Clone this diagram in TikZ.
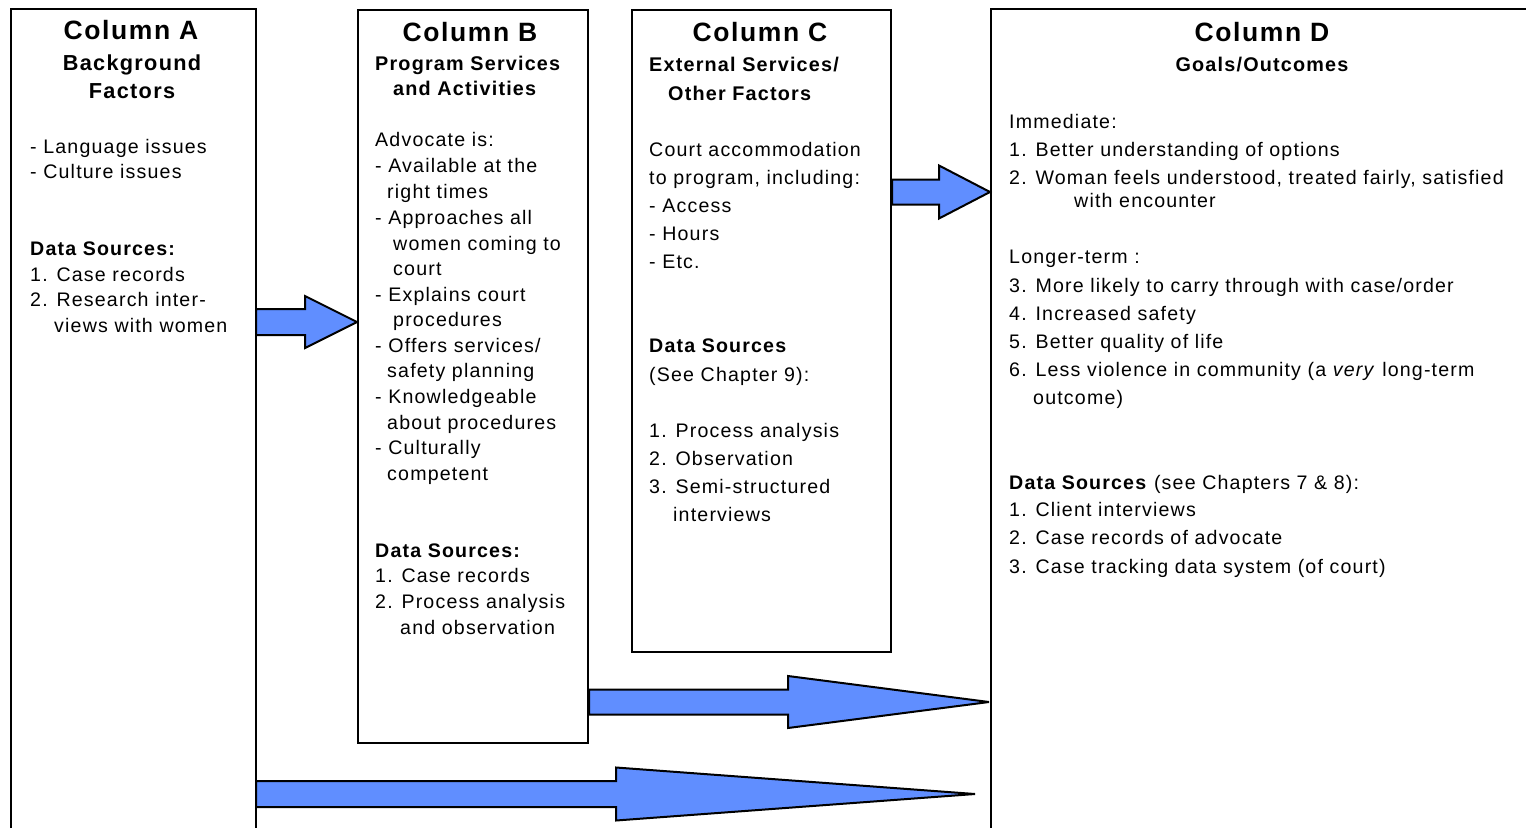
\documentclass[tikz,border=0pt]{standalone}
\usepackage{fontspec}
\setmainfont[LetterSpace=6]{Liberation Sans}
\usetikzlibrary{calc}

\definecolor{arrowblue}{RGB}{96,142,255}

\newcommand\bodyfont{\fontsize{19.6}{23}\selectfont}
\newcommand\titlefont{\bfseries\fontsize{26.5}{31}\selectfont}
\newcommand\subfontA{\bfseries\fontsize{21.7}{26}\selectfont}
\newcommand\colsubfont{\bfseries\fontsize{19.8}{23}\selectfont}

% one line of text, placed by its baseline
\newcommand\tline[4]{\node[txt] (#1) at (#2,#3) {#4};}

% block arrow: #1 tail, #2 tip, #3 head length, #4 shaft half-width, #5 head half-width
\newcommand\fatarrow[5]{%
  \draw[bigarrow] let \p1=(#1), \p2=(#2) in
    (\x1,\y2-#4pt) -- (\x2-#3pt,\y2-#4pt) -- (\x2-#3pt,\y2-#5pt) -- (\x2,\y2)
    -- (\x2-#3pt,\y2+#5pt) -- (\x2-#3pt,\y2+#4pt) -- (\x1,\y2+#4pt) -- cycle;}

\tikzset{
  box/.style={draw=black, line width=2pt},
  bigarrow/.style={draw=black, line width=2pt, fill=arrowblue, line join=miter, miter limit=4},
  txt/.style={anchor=base west, inner sep=0pt, font=\bodyfont},
  hdr/.style={anchor=base, inner sep=0pt, font=\titlefont},
}

\begin{document}
\begin{tikzpicture}[x=1pt, y=-1pt]
\useasboundingbox (0,0) rectangle (1526,828);

% ---- column frames ----
\draw[box] (11,828) -- (11,9) -- (256,9) -- (256,828);
\node[box, anchor=north west, minimum width=230pt, minimum height=733pt, inner sep=0pt] (B) at (357,9) {};
\node[box, anchor=north west, minimum width=259pt, minimum height=642pt, inner sep=0pt] (C) at (631,9) {};
\draw[box] (1526,9) -- (991,9) -- (991,828);

% ---- connector end points ----
\coordinate (a1) at (256,322);
\coordinate (a2) at (256,794);
\coordinate (a2tip) at (975,794);
\coordinate (b1) at (B.east |- 0,702);
\coordinate (c1) at (C.east |- 0,192);
\coordinate (d1) at (990,192);
\coordinate (d2) at (989,702);

% ---- block arrows ----
\fatarrow{a1}{B.west |- a1}{52}{13}{26}
\fatarrow{c1}{d1}{51}{12.5}{26.5}
\fatarrow{b1}{d2}{201}{12.5}{26}
\fatarrow{a2}{a2tip}{359}{13}{26.5}

% ---- Column A ----
\node[hdr] (at) at (131,39) {Column A};
\node[hdr, font=\subfontA] (as1) at (132,70) {Background};
\node[hdr, font=\subfontA] (as2) at (132,98) {Factors};
\tline{a01}{30}{153}{- Language issues}
\tline{a02}{30}{178}{- Culture issues}
\tline{a03}{30}{255}{\bfseries Data Sources:}
\tline{a04}{30}{281}{1. Case records}
\tline{a05}{30}{306}{2. Research inter-}
\tline{a06}{54}{332}{views with women}

% ---- Column B ----
\node[hdr] (bt) at (470,41) {Column B};
\node[txt, font=\colsubfont] (bs1) at (375,70) {Program Services};
\node[txt, font=\colsubfont] (bs2) at (393,95) {and Activities};
\tline{b01}{375}{146}{Advocate is:}
\tline{b02}{375}{172}{- Available at the}
\tline{b03}{387}{198}{right times}
\tline{b04}{375}{224}{- Approaches all}
\tline{b05}{393}{250}{women coming to}
\tline{b06}{393}{275}{court}
\tline{b07}{375}{301}{- Explains court}
\tline{b08}{393}{326}{procedures}
\tline{b09}{375}{352}{- Offers services/}
\tline{b10}{387}{377}{safety planning}
\tline{b11}{375}{403}{- Knowledgeable}
\tline{b12}{387}{429}{about procedures}
\tline{b13}{375}{454}{- Culturally}
\tline{b14}{387}{480}{competent}
\tline{b15}{375}{557}{\bfseries Data Sources:}
\tline{b16}{375}{582}{1. Case records}
\tline{b17}{375}{608}{2. Process analysis}
\tline{b18}{400}{634}{and observation}

% ---- Column C ----
\node[hdr] (ct) at (760,41) {Column C};
\node[txt, font=\colsubfont] (cs1) at (649,71) {External Services/};
\node[txt, font=\colsubfont] (cs2) at (668,100) {Other Factors};
\tline{c01}{649}{156}{Court accommodation}
\tline{c02}{649}{184}{to program, including:}
\tline{c03}{649}{212}{- Access}
\tline{c04}{649}{240}{- Hours}
\tline{c05}{649}{268}{- Etc.}
\tline{c06}{649}{352}{\bfseries Data Sources}
\tline{c07}{649}{381}{(See Chapter 9):}
\tline{c08}{649}{437}{1. Process analysis}
\tline{c09}{649}{465}{2. Observation}
\tline{c10}{649}{493}{3. Semi-structured}
\tline{c11}{673}{521}{interviews}

% ---- Column D ----
\node[hdr] (dt) at (1262,41) {Column D};
\node[hdr, font=\colsubfont] (ds) at (1262,71) {Goals/Outcomes};
\tline{d01}{1009}{128}{Immediate:}
\tline{d02}{1009}{156}{1. Better understanding of options}
\tline{d03}{1009}{184}{2. Woman feels understood, treated fairly, satisfied}
\tline{d04}{1074}{207}{with encounter}
\tline{d05}{1009}{263}{Longer-term :}
\tline{d06}{1009}{292}{3. More likely to carry through with case/order}
\tline{d07}{1009}{320}{4. Increased safety}
\tline{d08}{1009}{348}{5. Better quality of life}
\tline{d09}{1009}{376}{6. Less violence in community (a \textit{very} long-term}
\tline{d10}{1033}{404}{outcome)}
\tline{d11}{1009}{489}{\textbf{Data Sources} (see Chapters 7 \& 8):}
\tline{d12}{1009}{516}{1. Client interviews}
\tline{d13}{1009}{544}{2. Case records of advocate}
\tline{d14}{1009}{573}{3. Case tracking data system (of court)}
\end{tikzpicture}
\end{document}
